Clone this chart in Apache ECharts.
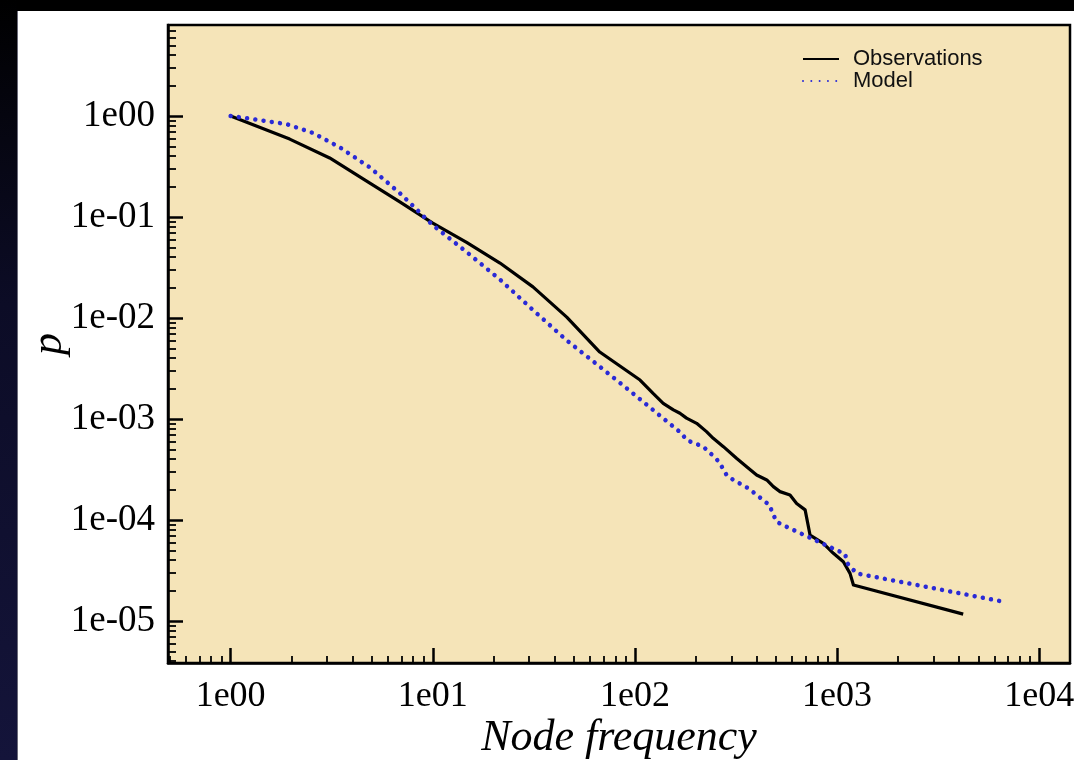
<!DOCTYPE html>
<html>
<head>
<meta charset="utf-8">
<script src="https://cdn.jsdelivr.net/npm/echarts@6/dist/echarts.min.js"></script>
<style>
  html, body { margin: 0; padding: 0; width: 1074px; height: 760px; overflow: hidden; background: #000; }
  #strip { position: absolute; left: 0; top: 0; width: 17px; height: 760px;
           background: linear-gradient(to bottom, #000 0%, #05050f 15%, #0c0c26 40%, #14143a 100%); }
  #panel { position: absolute; left: 17px; top: 11px; right: 0; bottom: 0; background: #fff;
           border-left: 1px solid #6a6a78; }
  #chart { position: absolute; left: 0; top: 0; width: 1074px; height: 760px; }
</style>
</head>
<body>
<div id="strip"></div>
<div id="panel"></div>
<div id="chart"></div>
<script>
// ---- data ----
const obsFreq = [1, 1.96, 3.09, 4.5, 6.87, 10, 14.7, 21.5, 31.3, 46, 67, 106, 123, 138, 155, 167, 180, 202, 226, 244, 274, 318, 357, 400, 449, 484, 522, 585, 631, 695, 735, 855, 959, 1074, 1159, 1205, 4207];
const obsP    = [1, 0.59, 0.384, 0.24, 0.141, 0.087, 0.056, 0.035, 0.0203, 0.0102, 0.0046, 0.00243, 0.00179, 0.00143, 0.00123, 0.00114, 0.00102, 0.000906, 0.00075, 0.000644, 0.000532, 0.000408, 0.000337, 0.000279, 0.000249, 0.000214, 0.000191, 0.000177, 0.000146, 0.000126, 0.000071, 0.0000587, 0.0000468, 0.0000386, 0.0000296, 0.0000227, 0.0000117];

const modelFreq = [1, 1.39, 1.89, 2.55, 3.46, 4.88, 6.87, 10, 14.7, 21.5, 31.3, 46, 67, 89, 170, 180, 218, 254, 269, 284, 307, 364, 462, 481, 502, 553, 1096, 1125, 1250, 6790];
const modelP    = [1, 0.91, 0.83, 0.68, 0.49, 0.31, 0.172, 0.083, 0.045, 0.024, 0.012, 0.006, 0.0033, 0.00209, 0.000721, 0.000619, 0.000532, 0.000399, 0.000337, 0.000279, 0.000249, 0.000206, 0.000141, 0.000116, 0.000096, 0.000087, 0.000046, 0.0000372, 0.0000296, 0.0000154];

const xMajor = [1, 10, 100, 1000, 10000];
const xTickLabels = ['1e00', '1e01', '1e02', '1e03', '1e04'];
const xMinor = [0.5, 0.6, 0.7, 0.8, 0.9, 2, 3, 4, 5, 6, 7, 8, 9, 20, 30, 40, 50, 60, 70, 80, 90,
                200, 300, 400, 500, 600, 700, 800, 900, 2000, 3000, 4000, 5000, 6000, 7000, 8000, 9000];
const yMajor = [1, 0.1, 0.01, 0.001, 0.0001, 0.00001];
const yTickLabels = ['1e00', '1e-01', '1e-02', '1e-03', '1e-04', '1e-05'];
const yMinor = [2, 3, 4, 5, 6, 7,
  0.2, 0.3, 0.4, 0.5, 0.6, 0.7, 0.8, 0.9,
  0.02, 0.03, 0.04, 0.05, 0.06, 0.07, 0.08, 0.09,
  0.002, 0.003, 0.004, 0.005, 0.006, 0.007, 0.008, 0.009,
  0.0002, 0.0003, 0.0004, 0.0005, 0.0006, 0.0007, 0.0008, 0.0009,
  0.00002, 0.00003, 0.00004, 0.00005, 0.00006, 0.00007, 0.00008, 0.00009,
  0.000004, 0.000005, 0.000006, 0.000007, 0.000008, 0.000009];

const xMin = 0.49, xMax = 14200;
const yMin = 3.84e-6, yMax = 7.95;

function labelFor(majors, labels) {
  return function (v) {
    for (let i = 0; i < majors.length; i++) {
      if (Math.abs(Math.log10(v) - Math.log10(majors[i])) < 1e-6) return labels[i];
    }
    return '';
  };
}

const serif = "'Liberation Serif', 'Times New Roman', serif";
const sans = "'Liberation Sans', Arial, Helvetica, sans-serif";

const chart = echarts.init(document.getElementById('chart'), null, { renderer: 'canvas' });
chart.setOption({
  backgroundColor: 'transparent',
  animation: false,
  grid: { left: 168, top: 25, right: 4, bottom: 97, show: true, backgroundColor: '#f5e4b8',
          borderColor: '#000', borderWidth: 2.5, containLabel: false, outerBoundsMode: 'none' },
  legend: {
    left: 802, top: 48, padding: 0, orient: 'vertical', itemWidth: 36, itemHeight: 14, itemGap: 0,
    itemStyle: { opacity: 0 },
    textStyle: { fontSize: 22, fontFamily: sans, color: '#111', padding: [0, 0, 0, 9] },
    data: ['Observations', 'Model']
  },
  xAxis: [
    { type: 'log', logBase: 10, min: xMin, max: xMax, position: 'bottom',
      axisLine: { show: true, lineStyle: { color: '#000', width: 2.5 } },
      axisTick: { show: true, inside: true, length: 15, customValues: xMajor, lineStyle: { color: '#000', width: 2.5 } },
      axisLabel: { show: true, customValues: xMajor, formatter: labelFor(xMajor, xTickLabels),
                   fontSize: 36, fontFamily: serif, color: '#000', margin: 16 },
      splitLine: { show: false },
      name: 'Node frequency', nameLocation: 'middle', nameGap: 53, nameMoveOverlap: false,
      nameTextStyle: { fontSize: 44, fontStyle: 'italic', fontFamily: serif, color: '#000' } },
    { type: 'log', logBase: 10, min: xMin, max: xMax, position: 'bottom',
      axisLine: { show: false },
      axisTick: { show: true, inside: true, length: 7, customValues: xMinor, lineStyle: { color: '#000', width: 1.8 } },
      axisLabel: { show: false }, splitLine: { show: false } }
  ],
  yAxis: [
    { type: 'log', logBase: 10, min: yMin, max: yMax, position: 'left',
      axisLine: { show: true, lineStyle: { color: '#000', width: 2.5 } },
      axisTick: { show: true, inside: true, length: 15, customValues: yMajor, lineStyle: { color: '#000', width: 2.5 } },
      axisLabel: { show: true, customValues: yMajor, formatter: labelFor(yMajor, yTickLabels),
                   fontSize: 37, fontFamily: serif, color: '#000', margin: 13 },
      splitLine: { show: false },
      name: 'p', nameLocation: 'middle', nameGap: 97, nameRotate: 90, nameMoveOverlap: false,
      nameTextStyle: { fontSize: 44, fontStyle: 'italic', fontFamily: serif, color: '#000' } },
    { type: 'log', logBase: 10, min: yMin, max: yMax, position: 'left',
      axisLine: { show: false },
      axisTick: { show: true, inside: true, length: 8, customValues: yMinor, lineStyle: { color: '#000', width: 1.8 } },
      axisLabel: { show: false }, splitLine: { show: false } }
  ],
  series: [
    { name: 'Observations', type: 'line', xAxisIndex: 0, yAxisIndex: 0, symbol: 'none', showSymbol: false,
      lineStyle: { color: '#000', width: 3.2, join: 'round' }, itemStyle: { color: '#000' },
      data: obsFreq.map((f, i) => [f, obsP[i]]) },
    { name: 'Model', type: 'line', xAxisIndex: 0, yAxisIndex: 0, symbol: 'none', showSymbol: false,
      lineStyle: { color: '#2a2ad6', width: 4.5, type: [0.01, 8.3], cap: 'round' }, itemStyle: { color: '#2a2ad6' },
      data: modelFreq.map((f, i) => [f, modelP[i]]) }
  ]
});
</script>
</body>
</html>
